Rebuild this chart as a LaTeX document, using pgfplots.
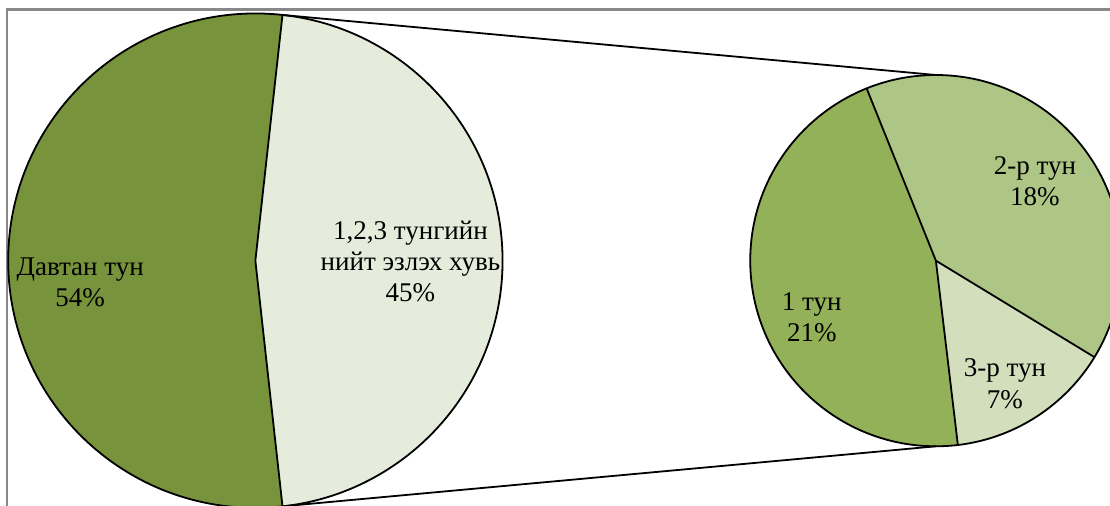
\documentclass[border=0pt]{standalone}
\usepackage{fontspec}
\setmainfont{Liberation Serif}
\usepackage{pgfplots}
\pgfplotsset{compat=1.18}
\definecolor{cDav}{HTML}{77933C}
\definecolor{cOther}{HTML}{E5ECDB}
\definecolor{cOne}{HTML}{93B158}
\definecolor{cTwo}{HTML}{ADC686}
\definecolor{cThree}{HTML}{D3DEBC}
\definecolor{cFrame}{HTML}{888888}
\begin{document}
\begin{tikzpicture}
% data (percent)
\def\vA{53.5}% Давтан тун
\def\vB{21.3}% 1 тун
\def\vC{18.5}% 2-р тун
\def\vD{6.7}% 3-р тун
\pgfmathsetmacro\vO{\vB+\vC+\vD}
\pgfmathsetmacro\half{\vO*1.8}
\pgfmathsetmacro\leftEnd{360-\half}
\pgfmathsetmacro\sStart{111.9}
\pgfmathsetmacro\sB{\sStart+\vB/\vO*360}
\pgfmathsetmacro\sD{\sB+\vD/\vO*360}
\pgfmathsetmacro\sC{\sD+\vC/\vO*360}
\begin{axis}[scale only axis, width=1110pt, height=507pt,
  xmin=0, xmax=1110, ymin=0, ymax=507, hide axis]
% frame
\draw[cFrame, line width=2.2pt] (axis cs:8,-20) -- (axis cs:8,496) -- (axis cs:1130,496);
% big pie
\fill[cDav] (axis cs:256,245) -- ++(\half:247pt) arc[start angle=\half, end angle=\leftEnd, radius=247pt] -- cycle;
\fill[cOther] (axis cs:256,245) -- ++(-\half:247pt) arc[start angle=-\half, end angle=\half, radius=247pt] -- cycle;
\draw[black, line width=1.8pt] (axis cs:256,245) circle[radius=247pt];
\draw[black, line width=1.8pt] (axis cs:256,245) ++(\half:247pt) -- (axis cs:256,245) -- ++(-\half:247pt);
% small pie
\fill[cOne] (axis cs:936,245) -- ++(\sStart:185.5pt) arc[start angle=\sStart, end angle=\sB, radius=185.5pt] -- cycle;
\fill[cThree] (axis cs:936,245) -- ++(\sB:185.5pt) arc[start angle=\sB, end angle=\sD, radius=185.5pt] -- cycle;
\fill[cTwo] (axis cs:936,245) -- ++(\sD:185.5pt) arc[start angle=\sD, end angle=\sC, radius=185.5pt] -- cycle;
\draw[black, line width=1.8pt] (axis cs:936,245) circle[radius=185.5pt];
\draw[black, line width=1.8pt] (axis cs:936,245) -- ++(\sStart:185.5pt);
\draw[black, line width=1.8pt] (axis cs:936,245) -- ++(\sB:185.5pt);
\draw[black, line width=1.8pt] (axis cs:936,245) -- ++(\sD:185.5pt);
% connectors
\draw[black, line width=1.8pt] (axis cs:256,245) ++(\half:247pt) -- (axis cs:936,430.5);
\draw[black, line width=1.8pt] (axis cs:256,245) ++(-\half:247pt) -- (axis cs:936,59.5);
% labels
\begin{scope}[every node/.style={font=\fontsize{27}{31}\selectfont, align=center, inner sep=0pt}]
\node at (axis cs:81,223) {Давтан тун\\54\%};
\node at (axis cs:411,244) {1,2,3 тунгийн\\нийт эзлэх хувь\\45\%};
\node at (axis cs:812,188) {1 тун\\21\%};
\node at (axis cs:1035,324) {2-р тун\\18\%};
\node at (axis cs:1005,122) {3-р тун\\7\%};
\end{scope}
\end{axis}
\end{tikzpicture}
\end{document}
